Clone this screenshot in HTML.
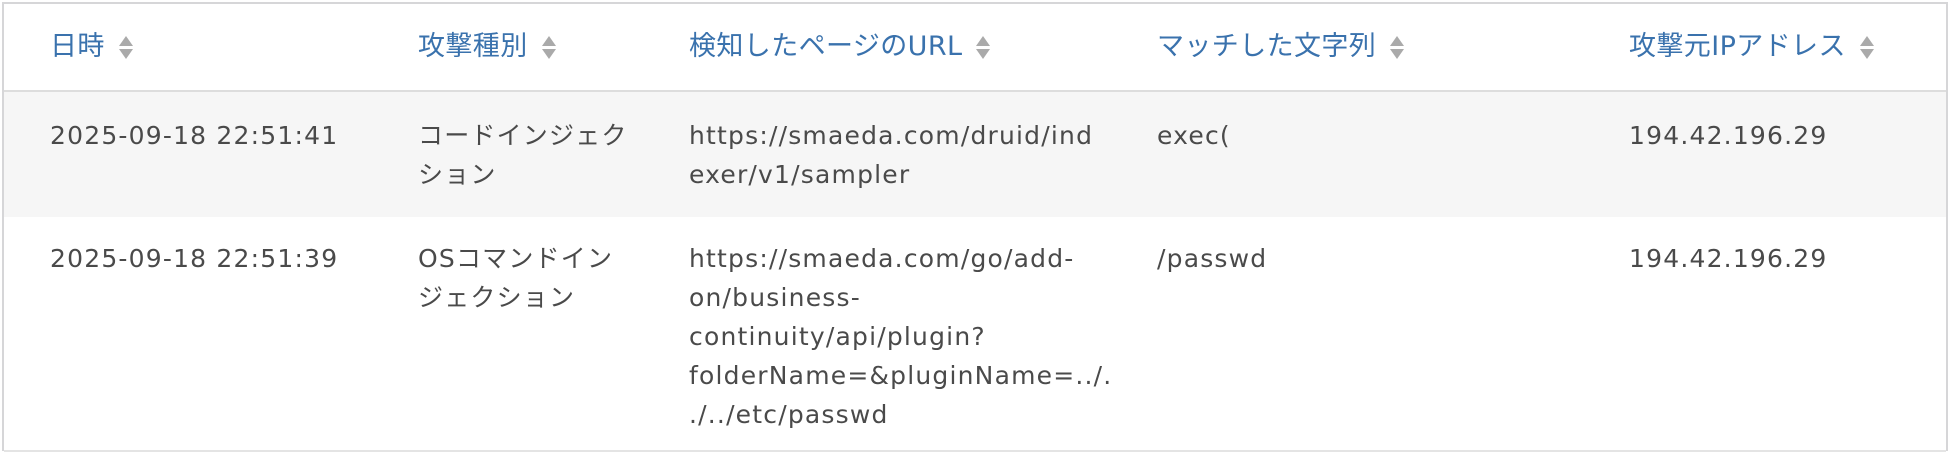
<!DOCTYPE html>
<html><head><meta charset="utf-8"><style>
body{margin:0;width:1955px;height:457px;background:#fff;position:relative;overflow:hidden;font-family:"DejaVu Sans","Noto Sans CJK JP",sans-serif;}
.box{position:absolute;left:2px;top:2px;width:1946px;height:449px;border:2px solid #d6d6d8;border-bottom:none;box-sizing:border-box;}
.r1{position:absolute;left:4px;top:90px;width:1942px;height:125px;background:#f6f6f6;border-top:2px solid #ddd;}
.bl{position:absolute;left:4px;top:450px;width:1942px;height:2px;background:#e4e4e4;}
.t{position:absolute;font-size:25px;line-height:39px;color:#4a4a4a;white-space:nowrap;letter-spacing:1.2px;}
.h{position:absolute;font-size:27px;color:#3a72ad;top:32px;line-height:30px;white-space:nowrap;letter-spacing:0.4px;}
.s{display:inline-block;vertical-align:middle;margin-left:14px;width:14px;height:28px;position:relative;}
.s:before{content:"";position:absolute;left:0;top:2px;border-left:7px solid transparent;border-right:7px solid transparent;border-bottom:10px solid #aaa;}
.s:after{content:"";position:absolute;left:0;top:15px;border-left:7px solid transparent;border-right:7px solid transparent;border-top:10px solid #aaa;}
</style></head><body>
<div class="box"></div>
<div class="r1"></div>
<div class="bl"></div>
<div class="h" style="left:50px">日時<span class="s"></span></div>
<div class="h" style="left:418px">攻撃種別<span class="s"></span></div>
<div class="h" style="left:689px">検知したページのURL<span class="s"></span></div>
<div class="h" style="left:1157px">マッチした文字列<span class="s"></span></div>
<div class="h" style="left:1629px">攻撃元IPアドレス<span class="s"></span></div>

<div class="t" style="left:50px;top:116px">2025-09-18 22:51:41</div>
<div class="t" style="left:418px;top:116px">コードインジェク<br>ション</div>
<div class="t" style="left:689px;top:116px">https://smaeda.com/druid/ind<br>exer/v1/sampler</div>
<div class="t" style="left:1157px;top:116px">exec(</div>
<div class="t" style="left:1629px;top:116px">194.42.196.29</div>

<div class="t" style="left:50px;top:239px">2025-09-18 22:51:39</div>
<div class="t" style="left:418px;top:239px">OSコマンドイン<br>ジェクション</div>
<div class="t" style="left:689px;top:239px">https://smaeda.com/go/add-<br>on/business-<br>continuity/api/plugin?<br>folderName=&amp;pluginName=../.<br>./../etc/passwd</div>
<div class="t" style="left:1157px;top:239px">/passwd</div>
<div class="t" style="left:1629px;top:239px">194.42.196.29</div>
</body></html>
